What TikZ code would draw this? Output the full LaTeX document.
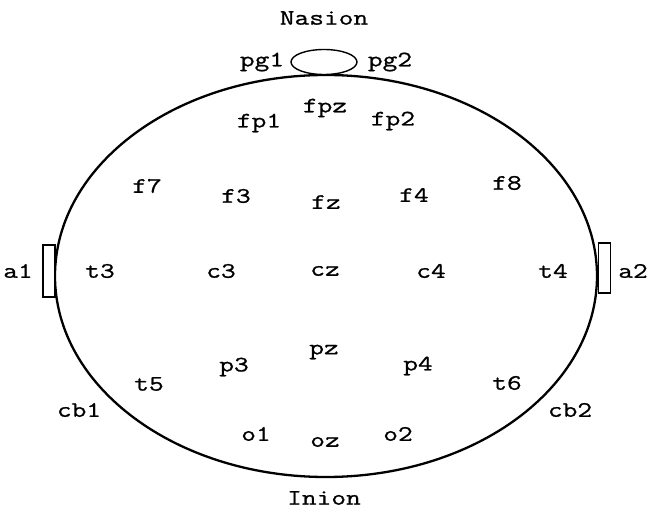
\documentclass[tikz,border=0pt]{standalone}
\usepackage{fontspec}
\usetikzlibrary{shapes.geometric}
\newfontfamily\monofam[FakeStretch=1.3,FakeBold=1]{Latin Modern Mono}
\begin{document}
\begin{tikzpicture}[x=1pt,y=-1pt,
  lbl/.style={font=\monofam\fontsize{22}{22}\selectfont, inner sep=0pt, anchor=center},
  outline/.style={draw=black, line width=2.3pt}]
\useasboundingbox (0,0) rectangle (649,513);
\node[outline, shape=ellipse, minimum width=542pt, minimum height=402pt, inner sep=0pt] (head) at (326,276) {};
\node[draw=black, line width=1.4pt, fill=white, shape=ellipse, minimum width=66pt, minimum height=25pt, inner sep=0pt] (nose) at (324,62) {};
\node[draw=black, line width=1.2pt, fill=white, minimum width=12pt, minimum height=52pt, inner sep=0pt] (ear1) at (49,271) {};
\node[draw=black, line width=1.2pt, fill=white, minimum width=12pt, minimum height=50pt, inner sep=0pt] (ear2) at (604.5,268) {};
\node[lbl] (nasion) at (324,18) {Nasion};
\node[lbl] (inion) at (324,498) {Inion};
\node[lbl] (pg1) at (262,62) {pg1};
\node[lbl] (pg2) at (390,62) {pg2};
\node[lbl] (fpz) at (325,108) {fpz};
\node[lbl] (fp1) at (259,123) {fp1};
\node[lbl] (fp2) at (393,121) {fp2};
\node[lbl] (f7) at (147,186) {f7};
\node[lbl] (f3) at (236,196) {f3};
\node[lbl] (fz) at (326,202) {fz};
\node[lbl] (f4) at (414,195) {f4};
\node[lbl] (f8) at (507,183) {f8};
\node[lbl] (a1) at (18,271) {a1};
\node[lbl] (t3) at (100,271) {t3};
\node[lbl] (c3) at (221,271) {c3};
\node[lbl] (cz) at (325,271) {cz};
\node[lbl] (c4) at (431,271) {c4};
\node[lbl] (t4) at (553,271) {t4};
\node[lbl] (a2) at (633,271) {a2};
\node[lbl] (pz) at (324,352) {pz};
\node[lbl] (p3) at (234,367) {p3};
\node[lbl] (p4) at (418,366) {p4};
\node[lbl] (t5) at (149,384) {t5};
\node[lbl] (t6) at (507,383) {t6};
\node[lbl] (cb1) at (79,410) {cb1};
\node[lbl] (cb2) at (570,410) {cb2};
\node[lbl] (o1) at (256,434) {o1};
\node[lbl] (oz) at (325,442) {oz};
\node[lbl] (o2) at (398,434) {o2};
\end{tikzpicture}
\end{document}
